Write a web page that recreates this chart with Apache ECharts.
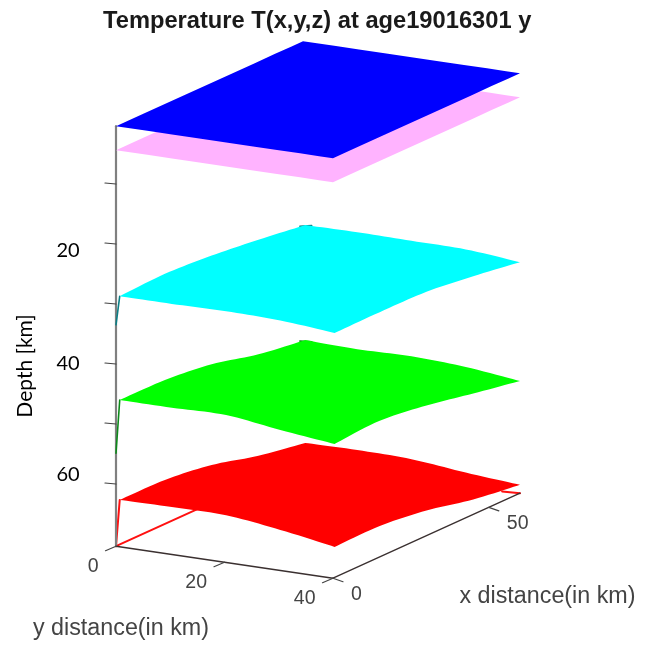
<!DOCTYPE html>
<html>
<head>
<meta charset="utf-8">
<style>html,body{margin:0;padding:0;background:#fff}#c{width:648px;height:645px}</style>
<script src="https://cdn.jsdelivr.net/npm/echarts@6/dist/echarts.min.js"></script>
</head>
<body>
<div id="c"></div>
<script>
// ---- grid nodes (km) ----
const xNodes = [0.5, 15, 30, 45, 60];
const yNodes = [0.4, 10, 20, 30, 40];
const xFlat = [0, 60];
const yFlat = [0, 40];
// ---- depth of each isotherm surface (km): rows = y nodes, columns = x nodes ----
const pinkDepth = [[4.2,4.2],[4.2,4.2]];
const blueDepth = [[0.2,0.2],[0.2,0.2]];
const cyanDepth = [
  [28.6,28.3,28.8,29.7,30.8],
  [28.6,28.6,29.0,29.8,30.7],
  [28.5,28.7,29.1,29.9,30.8],
  [28.7,28.9,29.3,30.1,30.9],
  [29.45,29.4,29.55,30.5,31.7]];
const greenDepth = [
  [45.9,46.0,46.9,48.8,49.95],
  [45.9,46.2,47.1,48.9,50.2],
  [45.8,46.4,47.4,49.1,50.05],
  [46.95,47.0,48.0,49.6,50.5],
  [47.95,47.5,48.5,50.04,51.5]];
const redDepth = [
  [62.55,62.65,63.7,65.7,67.1],
  [62.45,63.0,64.0,65.8,67.0],
  [62.5,63.3,64.3,66.0,67.2],
  [63.6,64.0,65.0,66.6,68.1],
  [65.1,65.05,66.0,67.7,68.8]];
// ---- ticks ----
const xTicks = [0, 50];
const yTicks = [0, 20, 40];
const depthTicks = [10, 20, 30, 40, 50, 60];
const depthLabels = ['20', '40', '60'];
// ---- thin edge strokes of the surfaces: [x,y,depth] pairs ----
const cyanEdges = [[[0,0,33.3],[0.5,0.4,28.6]], [[59,0,30.8],[60,1.6,30.7]]];
const greenEdges = [[[0,0,54.7],[0.5,0.4,45.9]], [[59,0,49.95],[60,1.6,50.1]]];
const redEdges = [[[0,0,70.2],[0.5,0.4,62.55]], [[0,0,70.2],[60,0,70.2]], [[60,40,70.2],[56,39,69.1]]];

// ---- oblique view ----
const view = {ox:116, oy:125, xdx:187/60, xdy:-85/60, ydx:217/40, ydy:32/40, dz:6};
const project = (x,y,d) => [view.ox + view.xdx*x + view.ydx*y, view.oy + view.xdy*x + view.ydy*y + view.dz*d];
const floor = 70.2;

// curve through the read points of one edge, for a smooth outline on screen
function spline(pts) {
  const out=[], steps=10, n=pts.length;
  for (let i=0;i<n-1;i++) {
    const p0=pts[Math.max(i-1,0)], p1=pts[i], p2=pts[i+1], p3=pts[Math.min(i+2,n-1)];
    for (let s=0;s<steps;s++) {
      const t=s/steps, t2=t*t, t3=t2*t;
      out.push([0,1].map(k=>0.5*(2*p1[k]+(p2[k]-p0[k])*t+(2*p0[k]-5*p1[k]+4*p2[k]-p3[k])*t2+(3*p1[k]-p0[k]-3*p2[k]+p3[k])*t3)));
    }
  }
  return out;
}
function surface(name, color, depth, xs, ys) {
  const nx=xs.length, ny=ys.length;
  const P=(r,c)=>project(xs[c],ys[r],depth[r][c]);
  const range=n=>Array.from({length:n},(_,i)=>i);
  const top=range(nx).map(c=>P(0,c));
  const right=range(ny).map(r=>P(r,nx-1));
  const bottom=range(nx).map(c=>P(ny-1,c)).reverse();
  const left=range(ny).map(r=>P(r,0)).reverse();
  const outline=[...spline(top),...spline(right),...spline(bottom),...spline(left)];
  return {
    type:'custom', name, coordinateSystem:'cartesian2d', clip:false, silent:true, data:[[0]],
    renderItem:(p,api)=>({type:'polygon',shape:{points:outline.map(q=>api.coord(q))},style:{fill:color}})
  };
}
function lines(name, segs, color, w) {
  return {
    type:'custom', name, coordinateSystem:'cartesian2d', clip:false, silent:true, data:segs.map((s,i)=>[i]),
    renderItem:(p,api)=>{
      const s=segs[api.value(0)];
      const a=api.coord(s[0]), b=api.coord(s[1]);
      return {type:'line',shape:{x1:a[0],y1:a[1],x2:b[0],y2:b[1]},style:{stroke:color,lineWidth:w,lineCap:'round'}};
    }
  };
}
const seg3 = list => list.map(s=>[project(...s[0]),project(...s[1])]);
function tickLabels(name, ticks, pos, dx, dy, align) {
  return {
    type:'custom', name, coordinateSystem:'cartesian2d', clip:false, silent:true, data:ticks.map(t=>[t]),
    renderItem:(p,api)=>{
      const t=api.value(0), a=api.coord(pos(t));
      return {type:'text',x:a[0]+dx,y:a[1]+dy,style:{text:String(t),fill:'#444',font:'19.5px "Liberation Sans"',align,verticalAlign:'middle'}};
    }
  };
}
const add = (a,d)=>[a[0]+d[0],a[1]+d[1]];
const yPos = t=>project(0,t,floor), xPos = t=>project(t,40,floor);
const yTickSegs = yTicks.map(t=>[yPos(t),add(yPos(t),[-10.5,4.5])]);
const xTickSegs = xTicks.map(t=>[xPos(t),add(xPos(t),[10,3.5])]);
const dTickSegs = depthTicks.map(d=>{const a=project(0,0,d);return [[a[0],a[1]-1],[a[0]-11,a[1]-2]];});

const textStyle = (text,x,y,font,fill)=>({type:'text',x,y,silent:true,
  style:{text,font,fill,align:'center',verticalAlign:'middle'}});

const chart = echarts.init(document.getElementById('c'),null,{renderer:'canvas'});
chart.setOption({
  animation:false,
  backgroundColor:'#ffffff',
  title:{text:'Temperature T(x,y,z) at age19016301 y',left:103,top:9,
    textStyle:{fontFamily:'Liberation Sans',fontWeight:'bold',fontSize:23.7,color:'#1a1a1a'},padding:0},
  grid:{left:0,right:0,top:0,bottom:0},
  xAxis:{type:'value',min:0,max:648,show:false},
  yAxis:{type:'value',min:0,max:645,inverse:true,show:false},
  series:[
    lines('redEdges',seg3(redEdges),'#ff1010',2),
    lines('axes',seg3([[[0,0,0.2],[0,0,floor]]]),'#808080',2.2),
    lines('axes2',seg3([[[0,0,floor],[0,40,floor]],[[0,40,floor],[60,40,floor]]]),'#3a3030',1.4),
    lines('ticks',[...yTickSegs,...xTickSegs,...dTickSegs],'#444',1.2),
    lines('cyanEdges',seg3(cyanEdges),'#0b7f86',1.6),
    lines('greenEdges',seg3(greenEdges),'#0d8a1a',1.6),
    surface('pink','#ffb3ff',pinkDepth,xFlat,yFlat),
    surface('blue','#0000ff',blueDepth,xFlat,yFlat),
    surface('cyan','#00ffff',cyanDepth,xNodes,yNodes),
    surface('green','#00ff00',greenDepth,xNodes,yNodes),
    surface('red','#ff0000',redDepth,xNodes,yNodes),
    tickLabels('yLabels',yTicks,yPos,-17.5,20.5,'right'),
    tickLabels('xLabels',xTicks,xPos,18,16.5,'left')
  ],
  graphic:[
    textStyle(depthLabels[0],68,251,'20px Lato','#000'),
    textStyle(depthLabels[1],68,364,'20px Lato','#000'),
    textStyle(depthLabels[2],68,475,'20px Lato','#000'),
    Object.assign(textStyle('Depth [km]',25,366,'21px Lato','#000'),{rotation:Math.PI/2}),
    textStyle('y distance(in km)',121,629,'23.3px "Liberation Sans"','#444'),
    textStyle('x distance(in km)',547.5,597,'23.3px "Liberation Sans"','#444')
  ]
});
</script>
</body>
</html>
